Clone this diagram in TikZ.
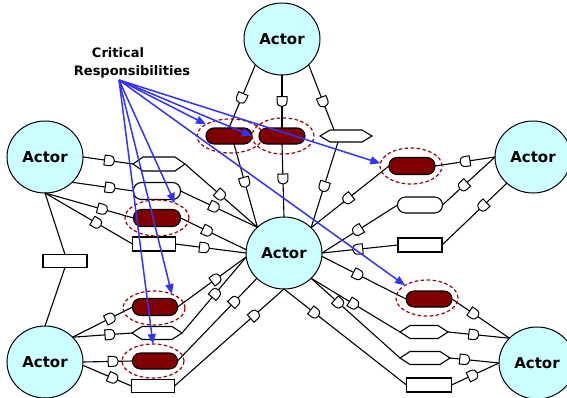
\documentclass[tikz,border=0pt]{standalone}
\usepackage{fontspec}
\newfontfamily\dvs{DejaVu Sans}
\usetikzlibrary{shapes.geometric,arrows.meta}
\definecolor{actorfill}{HTML}{CCFFFF}
\definecolor{critred}{HTML}{800000}
\definecolor{ringred}{HTML}{990000}
\definecolor{arrowblue}{HTML}{3333FF}
\tikzset{
 actor/.style={ellipse, draw, line width=1pt, fill=actorfill, minimum width=76, minimum height=72, inner sep=0, outer sep=0, font=\dvs\bfseries\fontsize{15}{18}\selectfont},
 critbox/.style={rectangle, rounded corners=8pt, draw, line width=1.1pt, fill=critred, inner sep=0, outer sep=0},
 softbox/.style={rectangle, rounded corners=8pt, draw, line width=1.1pt, fill=white, inner sep=0, outer sep=0},
 plainbox/.style={rectangle, draw, line width=1.1pt, fill=white, inner sep=0, outer sep=0},
 hexcore/.style={rectangle, inner sep=0, outer sep=0},
 hexline/.style={draw, line width=1.1pt, fill=white},
 dotlabel/.style={font=\fontsize{4}{4}\selectfont, text=gray, inner sep=0},
 critring/.style={ellipse, draw=ringred, dash pattern=on 3.5pt off 2.5pt, line width=1.2pt, inner sep=0, outer sep=0},
 wire/.style={draw, line width=1.1pt},
 crlabel/.style={font=\dvs\bfseries\fontsize{13}{15}\selectfont, inner sep=0, anchor=base},
 bluearrow/.style={draw=arrowblue, line width=1.5pt, -{Triangle[length=10pt,width=8pt]}},
 dgate/.pic={\draw[line width=1pt, fill=white] (-5pt,-5pt) -- (0pt,-5pt) .. controls (6.67pt,-5pt) and (6.67pt,5pt) .. (0pt,5pt) -- (-5pt,5pt) -- cycle;}
}
\newcommand\wire[3]{\draw[wire] #1 -- #2; \path #1 -- pic[pos=#3, sloped, allow upside down]{dgate} #2;}
\newcommand\hexbox[5]{%
 \node[hexcore, minimum width=#4, minimum height=#5] (#1) at (#2,#3) {};
 \draw[hexline] (#1.west) -- ([xshift=10pt]#1.north west) -- ([xshift=-10pt]#1.north east) -- (#1.east) -- ([xshift=-10pt]#1.south east) -- ([xshift=10pt]#1.south west) -- cycle;}
\begin{document}
\begin{tikzpicture}[x=1pt,y=-1pt]
\fill[white] (0,0) rectangle (567,397);
\path[use as bounding box] (0,0) rectangle (567,397);
% actors
\node[actor] (top) at (282,39) {Actor};
\node[actor] (lft) at (45,157) {Actor};
\node[actor] (rgt) at (533,157) {Actor};
\node[actor] (ctr) at (284,253) {Actor};
\node[actor] (bl) at (45,362) {Actor};
\node[actor] (br) at (537,363) {Actor};
% boxes
\node[critbox, minimum width=46, minimum height=16] (t1) at (229,136) {};
\node[critbox, minimum width=46, minimum height=16] (t2) at (282,136) {};
\hexbox{t3}{346}{136}{52}{12}
\node[dotlabel] (t3t) at ([yshift=-2pt]t3.center) {...};
\hexbox{l1}{159}{164}{52}{14}
\node[dotlabel] (l1t) at ([yshift=-2pt]l1.center) {...};
\node[softbox, minimum width=47, minimum height=17] (l2) at (157,191) {};
\node[critbox, minimum width=47, minimum height=17] (l3) at (157,218) {};
\node[plainbox, minimum width=43, minimum height=14] (l4) at (154,244) {};
\node[plainbox, minimum width=44, minimum height=13] (lr) at (65,261) {};
\node[critbox, minimum width=45, minimum height=17] (b1) at (155,307) {};
\hexbox{b2}{157}{333}{50}{13}
\node[critbox, minimum width=45, minimum height=16] (b3) at (155,361) {};
\node[plainbox, minimum width=43, minimum height=13] (b4) at (153,386) {};
\node[critbox, minimum width=46, minimum height=17] (r1) at (412,166) {};
\node[softbox, minimum width=45, minimum height=16] (r2) at (420,205) {};
\node[plainbox, minimum width=44, minimum height=14] (r3) at (420,245) {};
\node[critbox, minimum width=46, minimum height=16] (s1) at (429,299) {};
\hexbox{s2}{424}{332}{48}{13}
\node[dotlabel] (s2t) at ([yshift=-2pt]s2.center) {...};
\hexbox{s3}{425}{358}{50}{13}
\node[plainbox, minimum width=45, minimum height=14] (s4) at (429,385) {};
% connectors: top
\wire{(top.224)}{(t1.north)}{0.53}
\wire{([xshift=5pt]t1.south)}{(ctr.136)}{0.46}
\wire{(top.south)}{(t2.north)}{0.5}
\wire{(t2.south)}{(ctr.north)}{0.48}
\wire{(top.316)}{([xshift=-12pt]t3.north)}{0.57}
\wire{([xshift=-8pt]t3.south)}{(ctr.43)}{0.52}
% left
\wire{(lft.east)}{(l1.west)}{0.53}
\wire{(l1.east)}{(ctr.136)}{0.49}
\wire{(lft.317)}{(l2.west)}{0.62}
\wire{(l2.east)}{(ctr.136)}{0.44}
\wire{(lft.south)}{(l3.west)}{0.65}
\wire{(l3.east)}{(ctr.175)}{0.41}
\wire{(lft.south)}{(l4.west)}{0.59}
\wire{(l4.east)}{(ctr.west)}{0.41}
\draw[wire] (lft.south) -- (lr.north);
\draw[wire] (lr.south) -- (bl.north);
% bottom left
\wire{(bl.42)}{(b1.west)}{0.63}
\wire{(b1.east)}{(ctr.186)}{0.56}
\wire{(bl.42)}{(b2.west)}{0.63}
\wire{(b2.east)}{(ctr.186)}{0.52}
\wire{(bl.east)}{(b3.west)}{0.61}
\wire{(b3.east)}{(ctr.223)}{0.72}
\wire{(bl.355)}{(b4.west)}{0.62}
\wire{(b4.east)}{(ctr.south)}{0.73}
% right
\wire{(rgt.west)}{(r1.east)}{0.5}
\wire{(r1.west)}{(ctr.43)}{0.53}
\wire{(rgt.west)}{(r2.east)}{0.6}
\wire{(r2.west)}{(ctr.east)}{0.53}
\wire{(rgt.225)}{(r3.east)}{0.37}
\wire{(r3.west)}{(ctr.east)}{0.53}
% bottom right
\wire{(ctr.355)}{(s1.west)}{0.43}
\wire{(s1.east)}{(br.138)}{0.38}
\wire{(ctr.317)}{(s2.west)}{0.48}
\wire{(s2.east)}{(br.138)}{0.42}
\wire{(ctr.317)}{(s3.west)}{0.31}
\wire{(s3.east)}{(br.west)}{0.3}
\wire{(ctr.south)}{(s4.west)}{0.25}
\wire{(s4.east)}{(br.west)}{0.45}
% critical rings
\node[critring, minimum width=66, minimum height=34] (et1) at (230,136) {};
\node[critring, minimum width=62, minimum height=36] (et2) at (283,136) {};
\node[critring, minimum width=64, minimum height=36] (el3) at (157,218) {};
\node[critring, minimum width=62, minimum height=34] (eb1) at (154,308) {};
\node[critring, minimum width=62, minimum height=34] (eb3) at (153,361) {};
\node[critring, minimum width=62, minimum height=36] (er1) at (411,166) {};
\node[critring, minimum width=62, minimum height=36] (es1) at (427,298) {};
% label and arrows
\node[crlabel] (crit1) at (118,57) {Critical};
\node[crlabel] (crit2) at (132,75) {Responsibilities};
\coordinate (crsrc) at (119,80);
\draw[bluearrow] (crsrc) -- (et1.154);
\draw[bluearrow] (crsrc) -- (et2.180);
\draw[bluearrow] (crsrc) -- (er1.175);
\draw[bluearrow] (crsrc) -- (es1.150);
\draw[bluearrow] (crsrc) -- (el3.40);
\draw[bluearrow] (crsrc) -- (eb1.38);
\draw[bluearrow] (crsrc) -- (eb3.north);
\end{tikzpicture}
\end{document}
